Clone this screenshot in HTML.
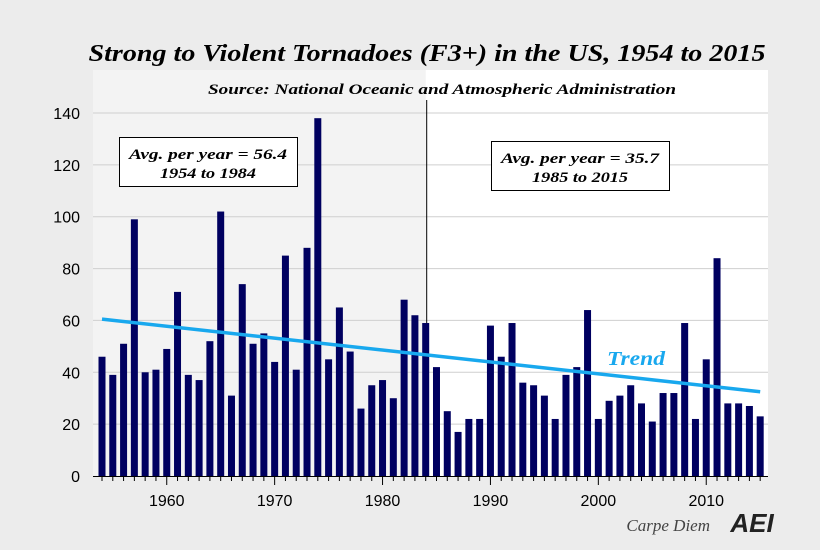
<!DOCTYPE html>
<html><head><meta charset="utf-8"><style>
body{margin:0;background:#ececec;}
svg{display:block;font-family:"Liberation Sans",sans-serif;}
.s{font-family:"Liberation Serif",serif;font-style:italic;font-weight:bold;}
</style></head><body>
<svg id="c" width="820" height="550">
<rect x="0" y="0" width="820" height="550" fill="#ececec"/>
<text class="s" x="427" y="61" text-anchor="middle" font-size="24" textLength="677" lengthAdjust="spacingAndGlyphs" fill="#000">Strong to Violent Tornadoes (F3+) in the US, 1954 to 2015</text>
<g id="plot"></g>
<text x="710" y="531" text-anchor="end" font-family="Liberation Serif,serif" font-style="italic" font-size="17" fill="#444">Carpe Diem</text>
<text x="752" y="532" text-anchor="middle" font-size="26" font-weight="bold" font-style="italic" fill="#222">AEI</text>
</svg>
<script>
const years=[];for(let y=1954;y<=2015;y++)years.push(y);
const counts=[46,39,51,99,40,41,49,71,39,37,52,102,31,74,51,55,44,85,41,88,138,45,65,48,26,35,37,30,68,62,59,42,25,17,22,22,58,46,59,36,35,31,22,39,42,64,22,29,31,35,28,21,32,32,59,22,45,84,28,28,27,23];
const trendEnds=[60.5,32.5];
const yTicks=[0,20,40,60,80,100,120,140];
const xTicks=[1960,1970,1980,1990,2000,2010];
const NS='http://www.w3.org/2000/svg';
const g=document.getElementById('plot');
const X=y=>102+(y-1954)*10.79;
const Y=v=>476-v*(363/140);
function el(t,a,p){const e=document.createElementNS(NS,t);for(const k in a)e.setAttribute(k,a[k]);(p||g).appendChild(e);return e;}
let r=el('rect',{x:93,y:70,width:675,height:406,fill:'#fff'});


r=el('rect',{x:93,y:70,width:X(1984)-93,height:406,fill:'#f3f3f3'});


yTicks.forEach(v=>{
 if(v>0){const l=el('line',{x1:93,x2:768,y1:Y(v),y2:Y(v),stroke:'#cfcfcf','stroke-width':1});
 
 }
 const t=el('text',{x:80,y:Y(v)+6,'text-anchor':'end','font-size':16,fill:'#000'});t.textContent=v;
 
 
});
let d=el('line',{x1:X(1984)+1,x2:X(1984)+1,y1:100,y2:476,stroke:'#000','stroke-width':1});


counts.forEach((v,i)=>{
 const b=el('rect',{x:X(years[i])-3.5,y:Y(v),width:7,height:476-Y(v),fill:'#000060'});
 
 
});
const tl=el('line',{x1:X(1954),y1:Y(trendEnds[0]),x2:X(2015),y2:Y(trendEnds[1]),stroke:'#18a8ee','stroke-width':3.5});


const ax=el('line',{x1:93,x2:768,y1:476.5,y2:476.5,stroke:'#000'});


years.forEach(y=>{const big=xTicks.includes(y);const tk=el('line',{x1:X(y),x2:X(y),y1:477,y2:big?485:481,stroke:'#000'});
 
 });
xTicks.forEach(y=>{const t=el('text',{x:X(y),y:506,'text-anchor':'middle','font-size':16,fill:'#000'});t.textContent=y;
 
 });
function label(txt,x,y,size,fill,name,len){const a={x:x,y:y,'text-anchor':'middle','font-size':size,fill:fill,'class':'s'};if(len){a.textLength=len;a.lengthAdjust='spacingAndGlyphs';}
 const t=el('text',a);t.textContent=txt;
 
 return t;}
label('Source: National Oceanic and Atmospheric Administration',442,94,15,'#000','source-note',468);
let bx=el('rect',{x:119.5,y:137.5,width:178,height:49,fill:'#fff',stroke:'#000'});


label('Avg. per year = 56.4',208,159,15,'#000','avg-label-1954-1984',158);
label('1954 to 1984',208,178,15,'#000','period-label-1954-1984',96);
bx=el('rect',{x:491.5,y:141.5,width:178,height:49,fill:'#fff',stroke:'#000'});


label('Avg. per year = 35.7',580,163,15,'#000','avg-label-1985-2015',158);
label('1985 to 2015',580,182,15,'#000','period-label-1985-2015',96);
label('Trend',636,365,20,'#18a8ee','trend-label',58);
</script>
</body></html>
